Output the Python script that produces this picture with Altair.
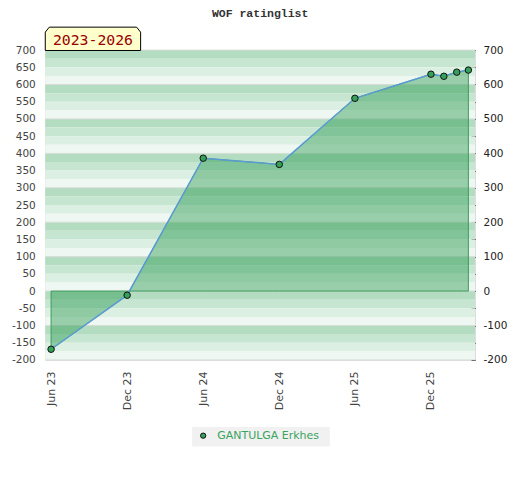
import altair as alt
import pandas as pd

# ---- data ----
dates = ["2023-06-01", "2023-12-01", "2024-06-01", "2024-12-01", "2025-06-01",
         "2025-12-01", "2026-01-01", "2026-02-01", "2026-03-01"]
ratings = [-169, -12, 386, 368, 560, 630, 624, 636, 642]
player = "GANTULGA Erkhes"
tick_years_months = [(2023, 6), (2023, 12), (2024, 6), (2024, 12), (2025, 6), (2025, 12)]
left_ticks = list(range(-200, 701, 50))
right_ticks = list(range(-200, 701, 50))
grid_values = list(range(-200, 701, 100))
title_text = "WOF ratinglist"
period_text = "2023-2026"

W, H = 430, 310
YDOM = [-200, 700]

df = pd.DataFrame({"date": pd.to_datetime(dates), "rating": ratings, "player": [player] * len(dates)})

# background stripes (4 shades per 100 points)
stripe_colors = ["#b3dcc1", "#c7e6d2", "#dcefe3", "#eef7f1"]
tops = list(range(700, -200, -25))
stripes = pd.DataFrame({"top": tops, "bottom": [t - 25 for t in tops],
                        "shade": [i % 4 for i in range(len(tops))]})

yscale = alt.Scale(domain=YDOM, nice=False, zero=False)

x_enc = alt.X(
    "date:T",
    scale=alt.Scale(domain=[alt.DateTime(year=2023, month=5, date=18),
                            alt.DateTime(year=2026, month=3, date=17)]),
    axis=alt.Axis(
        values=[alt.DateTime(year=y, month=m, date=1) for y, m in tick_years_months],
        format="%b %y", labelAngle=270, ticks=False, domain=False, grid=False,
        labelPadding=11, labelFont="DejaVu Sans", labelFontSize=11, labelColor="#444",
        title=None,
    ),
)

stripe_layer = alt.Chart(stripes).mark_rect().encode(
    x=alt.value(0), x2=alt.value(W),
    y=alt.Y("top:Q", scale=yscale,
            axis=alt.Axis(orient="left", values=left_ticks, ticks=False, domain=False, grid=False,
                          labelPadding=10, labelFont="DejaVu Sans", labelFontSize=10.5,
                          labelExpr="'' + datum.value",
                          labelColor="#444", title=None)),
    y2="bottom:Q",
    fill=alt.Fill("shade:N", scale=alt.Scale(domain=[0, 1, 2, 3], range=stripe_colors), legend=None),
)

grid_layer = alt.Chart(pd.DataFrame({"g": grid_values})).mark_rule(
    color="#d6dcd8", strokeWidth=1
).encode(y=alt.Y("g:Q", scale=yscale, axis=None))

area_layer = alt.Chart(df).mark_area(
    fill="#23954a", fillOpacity=0.42, stroke="#3a9e5a", strokeWidth=1
).encode(
    x=x_enc,
    y=alt.Y("rating:Q", scale=yscale,
            axis=alt.Axis(orient="right", values=right_ticks, offset=-4, tickSize=4,
                          tickColor="#111", domain=False, grid=False, labelPadding=8,
                          labelExpr="datum.value % 100 == 0 ? '' + datum.value : ''",
                          labelFont="DejaVu Sans", labelFontSize=10.5, labelColor="#222",
                          title=None)),
    y2=alt.datum(0),
)

line_layer = alt.Chart(df).mark_line(color="#5b9bd5", strokeWidth=1.5).encode(
    x=x_enc, y=alt.Y("rating:Q", scale=yscale, axis=None)
)

point_layer = alt.Chart(df).mark_point(
    filled=True, fill="#35a05a", stroke="#111111", strokeWidth=1, size=42, opacity=1
).encode(x=x_enc, y=alt.Y("rating:Q", scale=yscale, axis=None))

# title text
title_layer = alt.Chart(pd.DataFrame({"t": [title_text]})).mark_text(
    font="Liberation Mono", fontSize=11.5, fontWeight="bold", color="#333",
    align="center", baseline="middle"
).encode(text="t:N", x=alt.value(W / 2), y=alt.value(-36.5))

# period tab (chamfered box)
tab_path = "M-1,0.245 L-1,-0.14 L-0.916,-0.245 L0.916,-0.245 L1,-0.14 L1,0.245 Z"
tab_box = alt.Chart(pd.DataFrame({"t": [period_text]})).mark_point(
    shape=tab_path, size=9101, filled=True, fill="#ffffcc", stroke="#000000",
    strokeWidth=1, opacity=1
).encode(x=alt.value(47.7), y=alt.value(-11.3))
tab_text = alt.Chart(pd.DataFrame({"t": [period_text]})).mark_text(
    font="DejaVu Sans Mono", fontSize=14.8, color="#990000", align="center", baseline="middle"
).encode(text="t:N", x=alt.value(47.7), y=alt.value(-9.5))

# legend
leg_df = pd.DataFrame({"t": [player]})
leg_box = alt.Chart(leg_df).mark_rect(fill="#f1f1f1").encode(
    x=alt.value(147), x2=alt.value(284.7), y=alt.value(377), y2=alt.value(396.7)
)
leg_dot = alt.Chart(leg_df).mark_point(
    filled=True, fill="#35a05a", stroke="#111111", strokeWidth=1, size=28, opacity=1
).encode(x=alt.value(158), y=alt.value(385.8))
leg_text = alt.Chart(leg_df).mark_text(
    font="DejaVu Sans", fontSize=11, color="#3aa35f", align="left", baseline="middle"
).encode(text="t:N", x=alt.value(172), y=alt.value(386.3))

chart = alt.layer(
    stripe_layer, grid_layer, area_layer, line_layer, point_layer,
    title_layer, tab_box, tab_text, leg_box, leg_dot, leg_text
).resolve_scale(y="independent").properties(
    width=W, height=H,
    autosize=alt.AutoSizeParams(type="none"),
    padding={"left": 37.3, "top": 42, "right": 37, "bottom": 112},
).configure_view(stroke="#cccccc", strokeWidth=1.5).configure(background="white")

chart.save("out.html", embed_options={"renderer": "svg", "actions": False})
